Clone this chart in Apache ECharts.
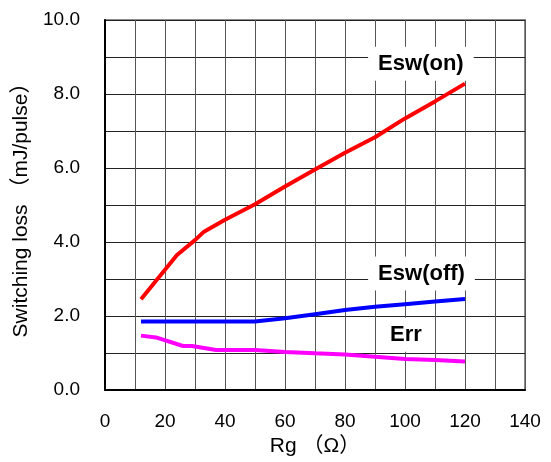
<!DOCTYPE html>
<html>
<head>
<meta charset="utf-8">
<script src="https://cdn.jsdelivr.net/npm/echarts@6/dist/echarts.min.js"></script>
<style>
html, body { margin: 0; padding: 0; background: #fff; }
#chart { width: 551px; height: 462px; }
</style>
</head>
<body>
<div id="chart"></div>
<script>
var FONT = '"Liberation Sans", Arial, "Noto Sans CJK JP", sans-serif';

// Esw(on)
var rgOn = [12, 24, 30, 33, 40, 50, 60, 70, 80, 90, 100, 110, 120];
var eswOn = [2.45, 3.65, 4.05, 4.28, 4.6, 5.02, 5.5, 5.96, 6.41, 6.83, 7.34, 7.8, 8.28];

// Esw(off)
var rgOff = [12, 50, 60, 70, 80, 90, 100, 110, 120];
var eswOff = [1.85, 1.85, 1.94, 2.05, 2.16, 2.25, 2.32, 2.39, 2.46];

// Err
var rgErr = [12, 17, 26, 29, 37, 50, 60, 70, 80, 90, 100, 110, 120];
var err = [1.47, 1.42, 1.19, 1.19, 1.08, 1.08, 1.03, 0.99, 0.96, 0.9, 0.84, 0.81, 0.77];

// curve name labels (data coords of label centre)
var labelOn = [105.3, 8.82];
var labelOff = [105.5, 3.15];
var labelErr = [100.3, 1.49];

function pairs(xs, ys) {
	var out = [];
	for (var i = 0; i < xs.length; i++) out.push([xs[i], ys[i]]);
	return out;
}

function nameTag(name, pos) {
	return {
		symbol: 'rect',
		symbolSize: 0,
		silent: true,
		data: [{ coord: pos, value: name }],
		label: {
			show: true,
			position: 'inside',
			formatter: name,
			color: '#000',
			fontFamily: FONT,
			fontWeight: 'bold',
			fontSize: 22,
			backgroundColor: '#fff',
			padding: [6, 10]
		}
	};
}

var myChart = echarts.init(document.getElementById('chart'));

var option = {
	animation: false,
	grid: {
		left: 105,
		top: 20,
		right: 26,
		bottom: 72,
		show: true,
		borderColor: '#8c8c8c',
		borderWidth: 2
	},
	xAxis: {
		type: 'value',
		min: 0,
		max: 140,
		interval: 20,
		name: 'Rg （Ω）',
		nameLocation: 'middle',
		nameGap: 45,
		nameTextStyle: { fontFamily: FONT, fontSize: 21, color: '#000' },
		axisLine: { show: true, onZero: false, lineStyle: { color: '#000', width: 2 } },
		axisTick: { show: false },
		axisLabel: { margin: 22, fontFamily: FONT, fontSize: 19, color: '#000' },
		splitLine: { show: true, lineStyle: { color: '#555', width: 1 } },
		minorTick: { show: false, splitNumber: 2 },
		minorSplitLine: { show: true, lineStyle: { color: '#555', width: 1 } }
	},
	yAxis: {
		type: 'value',
		min: 0,
		max: 10,
		interval: 2,
		name: 'Switching loss （mJ/pulse）',
		nameLocation: 'middle',
		nameGap: 68,
		nameTextStyle: { fontFamily: FONT, fontSize: 21, color: '#000' },
		axisLine: { show: true, onZero: false, lineStyle: { color: '#000', width: 2 } },
		axisTick: { show: false },
		axisLabel: {
			margin: 25,
			fontFamily: FONT,
			fontSize: 19,
			color: '#000',
			formatter: function (v) { return v.toFixed(1); }
		},
		splitLine: { show: true, lineStyle: { color: '#222', width: 1 } },
		minorTick: { show: false, splitNumber: 2 },
		minorSplitLine: { show: true, lineStyle: { color: '#222', width: 1 } }
	},
	series: [
		{
			name: 'Esw(on)',
			type: 'line',
			data: pairs(rgOn, eswOn),
			showSymbol: false,
			lineStyle: { color: '#ff0000', width: 4 },
			markPoint: nameTag('Esw(on)', labelOn),
			z: 3
		},
		{
			name: 'Esw(off)',
			type: 'line',
			data: pairs(rgOff, eswOff),
			showSymbol: false,
			lineStyle: { color: '#0000ff', width: 4 },
			markPoint: nameTag('Esw(off)', labelOff),
			z: 3
		},
		{
			name: 'Err',
			type: 'line',
			data: pairs(rgErr, err),
			showSymbol: false,
			lineStyle: { color: '#ff00ff', width: 4 },
			markPoint: nameTag('Err', labelErr),
			z: 3
		}
	]
};

myChart.setOption(option);
</script>
</body>
</html>
